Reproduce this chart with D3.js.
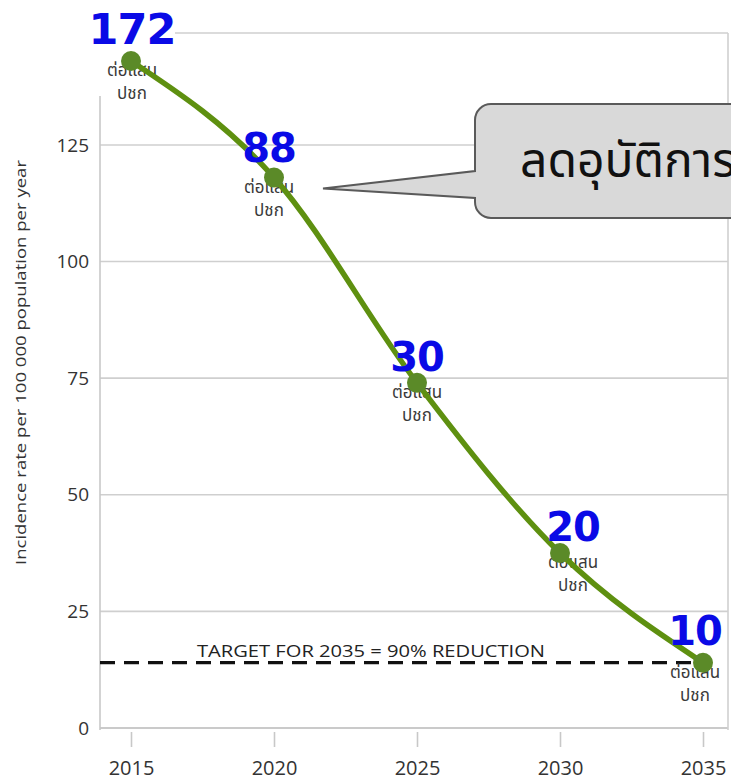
<!DOCTYPE html>
<html>
<head>
<meta charset="utf-8">
<script src="https://cdn.jsdelivr.net/npm/d3@7"></script>
<style>
  html, body { margin: 0; padding: 0; background: #fff; }
  svg { display: block; }
</style>
</head>
<body>
<svg id="chart" width="731" height="780"></svg>
<script>
// ---- data ----
const years = [2015, 2020, 2025, 2030, 2035];
const incidence = [143, 118, 74, 37.5, 14];
const pointLabels = ["172", "88", "30", "20", "10"];
const subLabelLines = ["ต่อแสน", "ปชก"];
const yTicks = [0, 25, 50, 75, 100, 125];
const xTicks = [2015, 2020, 2025, 2030, 2035];
const targetValue = 14;
const targetText = "TARGET FOR 2035 = 90% REDUCTION";
const yTitle = "Incidence rate per 100 000 population per year";
const calloutText = "ลดอุบัติการณ์";

// ---- layout (not data) ----
const labelShift = [[1, -17], [-5, -16], [0, -12], [13, -12], [-8, -18]];
const plot = { left: 100, right: 728, top: 33, bottom: 728 };

const svg = d3.select("#chart");
const x = d3.scaleLinear().domain([2015, 2035]).range([131, 703]);
const y = d3.scaleLinear().domain([0, 149]).range([plot.bottom, plot.top]);

const thai = "'Noto Sans Thai', 'Noto Sans Thai UI', Tahoma, 'Leelawadee UI', sans-serif";
const tickFont = "'Open Sans', 'Noto Sans', sans-serif";

// gridlines
svg.append("g").selectAll("line").data(yTicks.concat([149])).join("line")
  .attr("x1", plot.left).attr("x2", plot.right)
  .attr("y1", d => y(d)).attr("y2", d => y(d))
  .attr("stroke", d => d === 0 ? "#b8b8b8" : "#cfcfcf").attr("stroke-width", 1.6);
// left and right borders
svg.append("line").attr("x1", plot.left).attr("x2", plot.left)
  .attr("y1", plot.top).attr("y2", plot.bottom + 2).attr("stroke", "#c8c8c8").attr("stroke-width", 1.6);
svg.append("line").attr("x1", plot.right).attr("x2", plot.right)
  .attr("y1", plot.top).attr("y2", plot.bottom + 2).attr("stroke", "#d0d0d0").attr("stroke-width", 1.6);

// y axis
const yAxis = d3.axisLeft(y).tickValues(yTicks).tickSize(0).tickPadding(11);
const gy = svg.append("g").attr("transform", `translate(${plot.left},0)`).call(yAxis);
gy.select(".domain").remove();
gy.selectAll("text").attr("font-family", tickFont).attr("font-size", 19).attr("fill", "#333");

// x axis
const xAxis = d3.axisBottom(x).tickValues(xTicks).tickFormat(d3.format("d")).tickSize(15).tickPadding(14);
const gx = svg.append("g").attr("transform", `translate(0,${plot.bottom + 4})`).call(xAxis);
gx.select(".domain").remove();
gx.selectAll("line").attr("stroke", "#c8c8c8").attr("stroke-width", 1.6);
gx.selectAll("text").attr("font-family", tickFont).attr("font-size", 20).attr("fill", "#333");

// y title
svg.append("text")
  .attr("transform", `translate(26,${(160 + 565) / 2}) rotate(-90)`)
  .attr("text-anchor", "middle")
  .attr("font-family", tickFont).attr("font-size", 14).attr("fill", "#333")
  .attr("textLength", 405).attr("lengthAdjust", "spacingAndGlyphs")
  .text(yTitle);

// white background behind top-left label
svg.append("rect").attr("x", 85).attr("y", 0).attr("width", 90).attr("height", 96).attr("fill", "#fff");

// target dashed line
svg.append("line")
  .attr("x1", plot.left).attr("x2", x(2035))
  .attr("y1", y(targetValue)).attr("y2", y(targetValue))
  .attr("stroke", "#111").attr("stroke-width", 3.2).attr("stroke-dasharray", "15,9");
svg.append("text")
  .attr("x", 197).attr("y", y(targetValue) - 6)
  .attr("font-family", tickFont).attr("font-size", 16).attr("fill", "#222")
  .attr("textLength", 348).attr("lengthAdjust", "spacingAndGlyphs")
  .text(targetText);

// sub labels (behind dots)
const data = years.map((yr, i) => ({ yr, v: incidence[i], lab: pointLabels[i], s: labelShift[i] }));
const sub = svg.append("g").selectAll("text").data(data).join("text")
  .attr("text-anchor", "middle")
  .attr("font-family", thai).attr("font-size", 17).attr("fill", "#3a3a3a");
sub.append("tspan").attr("x", d => x(d.yr) + d.s[0]).attr("y", d => y(d.v) + 15).text(subLabelLines[0]);
sub.append("tspan").attr("x", d => x(d.yr) + d.s[0]).attr("y", d => y(d.v) + 38).text(subLabelLines[1]);

// line
const line = d3.line().x(d => x(d.yr)).y(d => y(d.v)).curve(d3.curveMonotoneX);
svg.append("path").datum(data).attr("d", line)
  .attr("fill", "none").attr("stroke", "#5e9010").attr("stroke-width", 5.5).attr("stroke-linecap", "round");

// dots
svg.append("g").selectAll("circle").data(data).join("circle")
  .attr("cx", d => x(d.yr)).attr("cy", d => y(d.v)).attr("r", 10)
  .attr("fill", "#5b8a28");

// number labels
svg.append("g").selectAll("text").data(data).join("text")
  .attr("x", d => x(d.yr) + d.s[0]).attr("y", d => y(d.v) + d.s[1])
  .attr("text-anchor", "middle")
  .attr("font-family", "'DejaVu Sans', Verdana, sans-serif").attr("font-weight", "bold")
  .attr("font-size", (d, i) => i === 0 ? 43 : 40).attr("letter-spacing", -1)
  .attr("fill", "#0a0ae6")
  .text(d => d.lab);

// callout
const tip = [x(2020) + 49, y(118) + 11];
const bx = 475, byTop = 104, byBot = 218, r = 16, bRight = 760;
const callout = d3.path();
callout.moveTo(bx + r, byTop);
callout.lineTo(bRight, byTop);
callout.lineTo(bRight, byBot);
callout.lineTo(bx + r, byBot);
callout.arcTo(bx, byBot, bx, byBot - r, r);
callout.lineTo(bx, 198);
callout.lineTo(tip[0], tip[1]);
callout.lineTo(bx, 171);
callout.lineTo(bx, byTop + r);
callout.arcTo(bx, byTop, bx + r, byTop, r);
callout.closePath();
svg.append("path").attr("d", callout.toString())
  .attr("fill", "#d9d9d9").attr("stroke", "#5a5a5a").attr("stroke-width", 2);
svg.append("text").attr("x", 520).attr("y", 177)
  .attr("font-family", thai).attr("font-size", 48).attr("fill", "#111")
  .text(calloutText);
</script>
</body>
</html>
